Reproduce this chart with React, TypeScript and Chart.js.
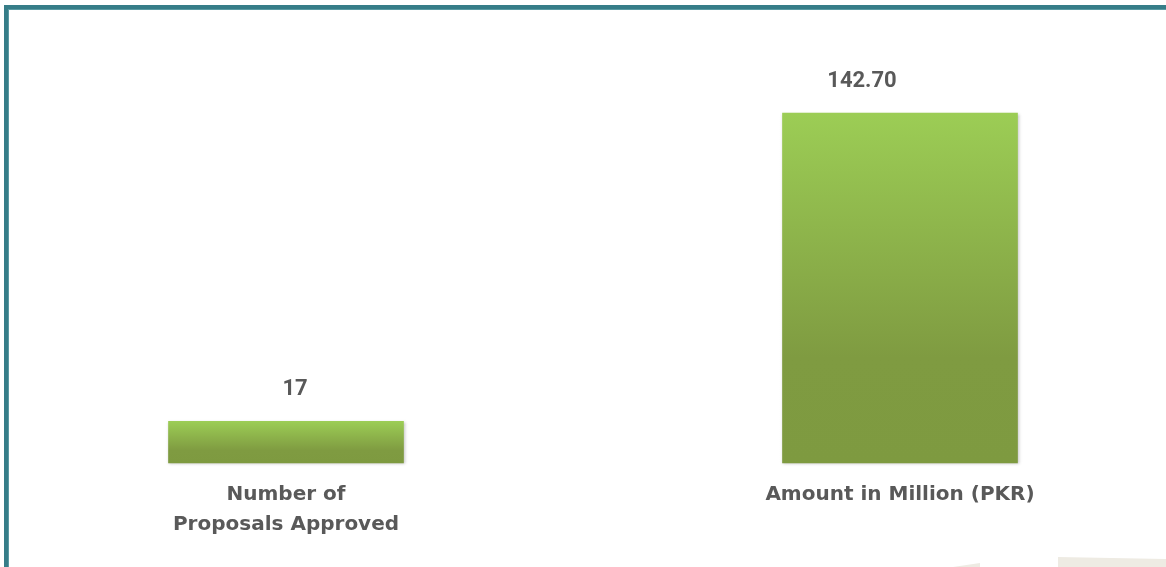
import React, { useEffect, useRef } from "react";
import { Chart, registerables } from "chart.js";

Chart.register(...registerables);

const categories: (string | string[])[] = [["Number of", "Proposals Approved"], "Amount in Million (PKR)"];
const values: number[] = [17, 142.7];
const valueLabels: string[] = ["17", "142.70"];

const W = 1166;
const H = 567;

const framePlugin = {
  id: "frame",
  beforeDraw(chart: any) {
    const c = chart.ctx;
    c.save();
    c.fillStyle = "#ffffff";
    c.fillRect(0, 0, W, H);
    c.fillStyle = "#eeebe3";
    c.beginPath();
    c.moveTo(953, 567);
    c.lineTo(980, 563);
    c.lineTo(980, 567);
    c.closePath();
    c.fill();
    c.beginPath();
    c.moveTo(1058, 567);
    c.lineTo(1058, 557);
    c.lineTo(1166, 559);
    c.lineTo(1166, 567);
    c.closePath();
    c.fill();
    c.fillStyle = "#367d88";
    c.fillRect(4, 5, W - 4, 4);
    c.fillRect(4, 5, 4, H - 5);
    c.fillStyle = "#5a9aa3";
    c.fillRect(8, 9, W - 8, 1);
    c.fillRect(8, 9, 1, H - 9);
    c.restore();
  },
};

const labelOffsets = [9, -38];

const barShadowPlugin = {
  id: "barShadow",
  beforeDatasetDraw(chart: any) {
    const c = chart.ctx;
    c.save();
    c.shadowColor = "rgba(0,0,0,0.25)";
    c.shadowBlur = 3;
    c.shadowOffsetX = 1;
    c.shadowOffsetY = 1;
  },
  afterDatasetDraw(chart: any) {
    chart.ctx.restore();
  },
};

const valueLabelPlugin = {
  id: "valueLabels",
  afterDatasetsDraw(chart: any) {
    const c = chart.ctx;
    const meta = chart.getDatasetMeta(0);
    c.save();
    c.font = "bold 22px Roboto";
    c.fillStyle = "#595959";
    c.textAlign = "center";
    c.textBaseline = "alphabetic";
    meta.data.forEach((bar: any, i: number) => {
      c.fillText(valueLabels[i], bar.x + labelOffsets[i], bar.y - 26);
    });
    c.restore();
  },
};

export default function App() {
  const ref = useRef<HTMLCanvasElement>(null);
  useEffect(() => {
    if (!ref.current) return;
    const chart = new Chart(ref.current, {
      type: "bar",
      data: {
        labels: categories as any,
        datasets: [
          {
            data: values,
            clip: false as any,
            barThickness: 235,
            borderWidth: 0,
            backgroundColor: (ctx: any) => {
              const ch = ctx.chart;
              const ys = ch.scales?.y;
              if (ctx.type !== "data" || !ys) return "#8db04a";
              const v = values[ctx.dataIndex];
              const top = ys.getPixelForValue(v);
              const base = ys.getPixelForValue(0);
              if (!isFinite(top) || !isFinite(base) || top === base) return "#8db04a";
              const g = ch.ctx.createLinearGradient(0, top, 0, base);
              g.addColorStop(0, "#9ccd55");
              g.addColorStop(0.7, "#7f9b41");
              g.addColorStop(1, "#7e9a40");
              return g;
            },
          },
        ],
      },
      options: {
        responsive: false,
        animation: false,
        layout: { padding: { left: 286, right: W - 900, top: 70.6, bottom: 0 } },
        plugins: { legend: { display: false }, tooltip: { enabled: false } },
        scales: {
          x: {
            offset: false,
            grid: { display: false, drawTicks: false },
            border: { display: false },
            ticks: {
              color: "#595959",
              font: { family: "DejaVu Sans", weight: "bold", size: 20, lineHeight: 30 / 20 },
              padding: 17,
              maxRotation: 0,
              autoSkip: false,
            },
            afterFit: (scale: any) => {
              scale.height = H - 463;
            },
          },
          y: {
            display: false,
            min: 0,
            max: 160,
          },
        },
      },
      plugins: [framePlugin, barShadowPlugin, valueLabelPlugin],
    });
    return () => chart.destroy();
  }, []);
  return (
    <div style={{ position: "fixed", left: 0, top: 0, width: W, height: H }}>
      <canvas ref={ref} width={W} height={H} style={{ display: "block" }} />
    </div>
  );
}
